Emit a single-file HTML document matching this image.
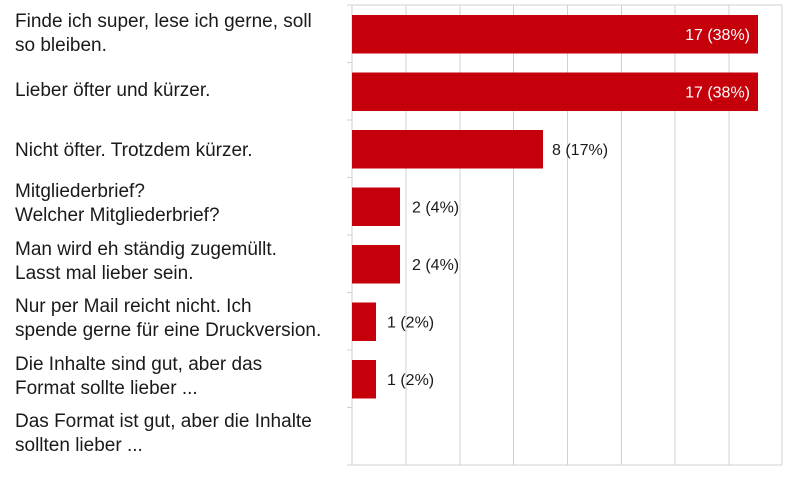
<!DOCTYPE html>
<html><head><meta charset="utf-8"><style>
body{margin:0;width:793px;height:479px;background:#fff;overflow:hidden;font-family:"Liberation Sans",sans-serif;}
svg text{font-family:"Liberation Sans",sans-serif;font-size:16px;fill:#1a1a1a;}
svg text.l{font-size:19px;}
</style></head><body>
<svg width="793" height="479" xmlns="http://www.w3.org/2000/svg">
<g stroke="#d0d0d0" stroke-width="1">
<line x1="352" y1="5" x2="782" y2="5"/>
<line x1="406" y1="5" x2="406" y2="465"/>
<line x1="460" y1="5" x2="460" y2="465"/>
<line x1="513.5" y1="5" x2="513.5" y2="465"/>
<line x1="567.5" y1="5" x2="567.5" y2="465"/>
<line x1="621.5" y1="5" x2="621.5" y2="465"/>
<line x1="675" y1="5" x2="675" y2="465"/>
<line x1="729" y1="5" x2="729" y2="465"/>
<line x1="782" y1="5" x2="782" y2="465"/>
<line x1="347" y1="465" x2="782" y2="465"/>
<line x1="352" y1="5" x2="352" y2="465"/>
<line x1="347" y1="5" x2="352" y2="5"/>
<line x1="347" y1="62.5" x2="352" y2="62.5"/>
<line x1="347" y1="120" x2="352" y2="120"/>
<line x1="347" y1="177.5" x2="352" y2="177.5"/>
<line x1="347" y1="235" x2="352" y2="235"/>
<line x1="347" y1="292.5" x2="352" y2="292.5"/>
<line x1="347" y1="350" x2="352" y2="350"/>
<line x1="347" y1="407.5" x2="352" y2="407.5"/>
</g>
<g fill="#c5000b">
<rect x="352" y="15" width="406" height="38.5"/>
<rect x="352" y="72.5" width="406" height="38.5"/>
<rect x="352" y="130" width="191" height="38.5"/>
<rect x="352" y="187.5" width="48" height="38.5"/>
<rect x="352" y="245" width="48" height="38.5"/>
<rect x="352" y="302.5" width="24" height="38.5"/>
<rect x="352" y="360" width="24" height="38.5"/>
</g>
<text x="750" y="40" text-anchor="end" style="fill:#fff">17 (38%)</text>
<text x="750" y="97.5" text-anchor="end" style="fill:#fff">17 (38%)</text>
<text x="552" y="155">8 (17%)</text>
<text x="412" y="212.5">2 (4%)</text>
<text x="412" y="270">2 (4%)</text>
<text x="387" y="327.5">1 (2%)</text>
<text x="387" y="385">1 (2%)</text>
<g class="l">
<text class="l" x="15" y="27">Finde ich super, lese ich gerne, soll</text>
<text class="l" x="15" y="51">so bleiben.</text>
<text class="l" x="15" y="96">Lieber öfter und kürzer.</text>
<text class="l" x="15" y="156">Nicht öfter. Trotzdem kürzer.</text>
<text class="l" x="15" y="197">Mitgliederbrief?</text>
<text class="l" x="15" y="221">Welcher Mitgliederbrief?</text>
<text class="l" x="15" y="255">Man wird eh ständig zugemüllt.</text>
<text class="l" x="15" y="279">Lasst mal lieber sein.</text>
<text class="l" x="15" y="312">Nur per Mail reicht nicht. Ich</text>
<text class="l" x="15" y="336">spende gerne für eine Druckversion.</text>
<text class="l" x="15" y="370">Die Inhalte sind gut, aber das</text>
<text class="l" x="15" y="394">Format sollte lieber ...</text>
<text class="l" x="15" y="427">Das Format ist gut, aber die Inhalte</text>
<text class="l" x="15" y="451">sollten lieber ...</text>
</g>
</svg>
</body></html>
